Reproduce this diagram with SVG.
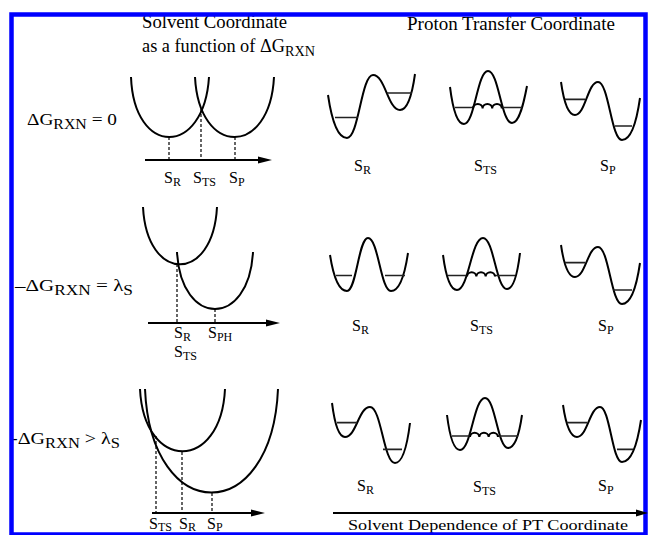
<svg xmlns="http://www.w3.org/2000/svg" width="648" height="535" viewBox="0 0 648 535">
<defs>
<style>
.t{font-family:"Liberation Serif","Times New Roman",serif;fill:#000}
.h{font-size:18px}
.l{font-size:17px}
.s{font-size:16px}
.sub{font-size:12px}
.subl{font-size:14px}
.c{fill:none;stroke:#000;stroke-width:2}
.lv{fill:none;stroke:#222;stroke-width:1.7}
.ax{stroke:#000;stroke-width:2}
.ah{fill:#000}
.d{stroke:#000;stroke-width:1.2;stroke-dasharray:3 2}
.fr{fill:none;stroke:#0000ff;stroke-width:4.5}
</style>
</defs>
<rect width="648" height="535" fill="#fff"/>

<g id="header">
<text class="t h" x="142" y="28" textLength="145" lengthAdjust="spacingAndGlyphs">Solvent Coordinate</text>
<text class="t h" x="142" y="52" textLength="173" lengthAdjust="spacingAndGlyphs">as a function of ΔG<tspan class="subl" dy="4">RXN</tspan></text>
<text class="t h" x="407" y="30" textLength="208" lengthAdjust="spacingAndGlyphs">Proton Transfer Coordinate</text>
</g>

<g id="row-labels">
<text class="t l" x="27" y="125" textLength="90" lengthAdjust="spacingAndGlyphs">ΔG<tspan class="subl" dy="4">RXN</tspan><tspan dy="-4"> = 0</tspan></text>
<text class="t l" x="15" y="291" textLength="118" lengthAdjust="spacingAndGlyphs">–ΔG<tspan class="subl" dy="4">RXN</tspan><tspan dy="-4"> = λ</tspan><tspan class="subl" dy="4">S</tspan></text>
<text class="t l" x="11" y="444" textLength="109" lengthAdjust="spacingAndGlyphs">-ΔG<tspan class="subl" dy="4">RXN</tspan><tspan dy="-4"> &gt; λ</tspan><tspan class="subl" dy="4">S</tspan></text>
</g>

<g id="solvent-row1">
<path class="c" d="M131,77 C134,157 204,157 209,77"/>
<path class="c" d="M195,77 C199,157 270,157 274,77"/>
<text class="t s" x="164" y="183">S<tspan class="sub" dy="3">R</tspan></text>
<text class="t s" x="193" y="183">S<tspan class="sub" dy="3">TS</tspan></text>
<text class="t s" x="229" y="183">S<tspan class="sub" dy="3">P</tspan></text>
</g>

<g id="solvent-row2">
<path class="c" d="M143,207 C147,283.4 213,283.4 217,207"/>
<path class="c" d="M177,252 C181,328 249,328 253,252"/>
<text class="t s" x="174" y="338">S<tspan class="sub" dy="3">R</tspan></text>
<text class="t s" x="208" y="338">S<tspan class="sub" dy="3">PH</tspan></text>
<text class="t s" x="174" y="357">S<tspan class="sub" dy="3">TS</tspan></text>
</g>

<g id="solvent-row3">
<path class="c" d="M140,389 C144,472 221,472 225,389"/>
<path class="c" d="M145,389 C151,527 272,527 278,389"/>
<text class="t s" x="149" y="529">S<tspan class="sub" dy="2">TS</tspan></text>
<text class="t s" x="179" y="529">S<tspan class="sub" dy="2">R</tspan></text>
<text class="t s" x="207" y="529">S<tspan class="sub" dy="2">P</tspan></text>
</g>

<g id="pt-row1-sr">
<path class="c" d="M328,95 C331.8,120.8 337.5,138 347,138 C358.7,138 361.3,75 373,75 C385.2,75 387.9,110 400,110 C407.5,110 412,95.6 415,74"/>
<path class="lv" d="M335,117.5H358M387,93H412"/>
<text class="t s" x="354" y="171">S<tspan class="sub" dy="3">R</tspan></text>
</g>
<g id="pt-row1-sts">
<path class="c" d="M450,87 C452.8,109.2 457,124 464,124 C474.8,124 477.2,71 488,71 C498.8,71 501.2,123 512,123 C519.5,123 524,101.8 527,86"/>
<path class="lv" d="M455,107.5H473M502,107.5H522"/>
<path class="c" d="M473,108.5 a4.8,4.5 0 0 1 9.6,0 a4.8,4.5 0 0 1 9.6,0 a4.8,4.5 0 0 1 9.6,0"/>
<text class="t s" x="474" y="171">S<tspan class="sub" dy="3">TS</tspan></text>
</g>
<g id="pt-row1-sp">
<path class="c" d="M561,82 C563.8,101.8 568,115 575,115 C585.4,115 587.7,82 598,82 C608.8,82 611.2,140 622,140 C631,140 636.4,123.2 640,98"/>
<path class="lv" d="M565,99.3H585M615,126H632"/>
<text class="t s" x="600" y="171">S<tspan class="sub" dy="3">P</tspan></text>
</g>

<g id="pt-row2-sr">
<path class="c" d="M330,255 C333.4,276.6 338.5,291 347,291 C356.45,291 358.55,238 368,238 C378.35,238 380.65,291 391,291 C399.5,291 404.6,275.8 408,253"/>
<path class="lv" d="M336,275.5H352M385,275.5H405"/>
<text class="t s" x="352" y="331">S<tspan class="sub" dy="3">R</tspan></text>
</g>
<g id="pt-row2-sts">
<path class="c" d="M443,255 C445.8,276 450,290 457,290 C468.7,290 471.3,238 483,238 C493.8,238 496.2,289 507,289 C513.5,289 517.4,274.6 520,253"/>
<path class="lv" d="M448,275.5H467M495,275.5H515"/>
<path class="c" d="M467,276.5 a4.67,4.5 0 0 1 9.33,0 a4.67,4.5 0 0 1 9.33,0 a4.67,4.5 0 0 1 9.33,0"/>
<text class="t s" x="470" y="331">S<tspan class="sub" dy="3">TS</tspan></text>
</g>
<g id="pt-row2-sp">
<path class="c" d="M561,245 C563.8,264.2 568,277 575,277 C585.4,277 587.7,247 598,247 C608.8,247 611.2,304 622,304 C631,304 636.4,287.6 640,263"/>
<path class="lv" d="M565,262.7H585M613,290H632"/>
<text class="t s" x="598" y="331">S<tspan class="sub" dy="3">P</tspan></text>
</g>

<g id="pt-row3-sr">
<path class="c" d="M332,403 C334.6,423.4 338.5,437 345,437 C356.25,437 358.75,407 370,407 C381.25,407 383.75,463 395,463 C402.5,463 407,447 410,423"/>
<path class="lv" d="M337,422.7H357M383,449.3H402"/>
<text class="t s" x="357" y="491">S<tspan class="sub" dy="3">R</tspan></text>
</g>
<g id="pt-row3-sts">
<path class="c" d="M447,415 C449.6,436 453.5,450 460,450 C471.25,450 473.75,398 485,398 C495.35,398 497.65,448 508,448 C515,448 519.2,434.8 522,415"/>
<path class="lv" d="M452,436H470M498,436H518"/>
<path class="c" d="M470,437 a4.67,4.5 0 0 1 9.33,0 a4.67,4.5 0 0 1 9.33,0 a4.67,4.5 0 0 1 9.33,0"/>
<text class="t s" x="473" y="492">S<tspan class="sub" dy="3">TS</tspan></text>
</g>
<g id="pt-row3-sp">
<path class="c" d="M563,405 C565.8,424.2 570,437 577,437 C587.4,437 589.7,407 600,407 C609.9,407 612.1,462 622,462 C631.5,462 637.2,445.2 641,420"/>
<path class="lv" d="M567,422.7H587M617,449.3H633"/>
<text class="t s" x="598" y="491">S<tspan class="sub" dy="3">P</tspan></text>
</g>

<text id="pt-axis-label" class="t" style="font-size:15px" x="348" y="530" textLength="280" lengthAdjust="spacingAndGlyphs">Solvent Dependence of PT Coordinate</text>

<rect id="frame" class="fr" x="11.5" y="14.5" width="634" height="520"/>

<g id="connectors">
<line class="d" x1="169" y1="137" x2="169" y2="160"/>
<line class="d" x1="201" y1="109" x2="201" y2="160"/>
<line class="d" x1="235" y1="137" x2="235" y2="160"/>
<line class="ax" x1="145" y1="160" x2="260" y2="160"/>
<polygon class="ah" points="258,156.5 272,160 258,163.5"/>

<line class="d" x1="177" y1="264" x2="177" y2="323"/>
<line class="d" x1="215" y1="309" x2="215" y2="323"/>
<line class="ax" x1="148" y1="323" x2="268" y2="323"/>
<polygon class="ah" points="266,319.5 280,323 266,326.5"/>

<line class="d" x1="156" y1="436" x2="156" y2="513"/>
<line class="d" x1="182" y1="452" x2="182" y2="513"/>
<line class="d" x1="212" y1="493" x2="212" y2="513"/>
<line class="ax" x1="152" y1="513" x2="254" y2="513"/>
<polygon class="ah" points="251,509.5 265,513 251,516.5"/>

<line class="ax" x1="333" y1="513" x2="640" y2="513"/>
<polygon class="ah" points="636,509.5 648,513 636,516.5"/>
</g>
</svg>
